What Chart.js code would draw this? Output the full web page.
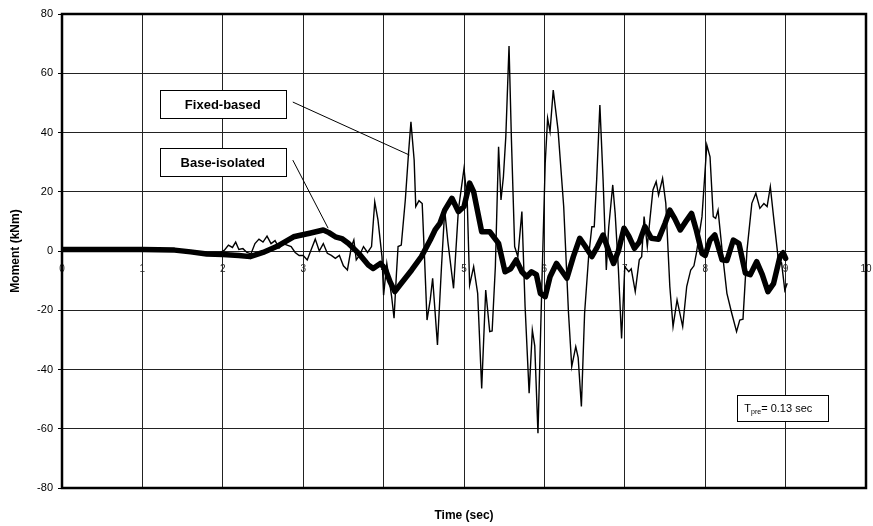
<!DOCTYPE html>
<html>
<head>
<meta charset="utf-8">
<script src="https://cdn.jsdelivr.net/npm/chart.js@4/dist/chart.umd.min.js"></script>
<style>
  html, body { margin: 0; padding: 0; background: #fff; }
  #chart { display: block; }
</style>
</head>
<body>
<canvas id="chart" width="873" height="526"></canvas>
<script>
// x ticks 0..10 (sec), y ticks -80..80 (kNm)
const xTicks = [0, 1, 2, 3, 4, 5, 6, 7, 8, 9, 10];
const yTicks = [-80, -60, -40, -20, 0, 20, 40, 60, 80];

// Fixed-based response (thin line)
const fixedTime = [
  0, 0.5, 1.0, 1.5, 1.65, 1.75, 1.85, 1.95, 2.02, 2.07, 2.12, 2.16, 2.2, 2.25, 2.3, 2.35,
  2.4, 2.45, 2.5, 2.55, 2.6, 2.65, 2.7, 2.75, 2.8, 2.85, 2.9, 2.95, 3.0, 3.05, 3.1, 3.15,
  3.2, 3.25, 3.3, 3.35, 3.4, 3.45, 3.5, 3.55, 3.6, 3.63, 3.66, 3.7, 3.75, 3.8, 3.85, 3.89,
  3.93, 3.98, 4.0, 4.04, 4.1, 4.13, 4.16, 4.18, 4.22, 4.27, 4.31, 4.34, 4.38, 4.4, 4.44, 4.48,
  4.51, 4.54, 4.58, 4.61, 4.67, 4.72, 4.76, 4.8, 4.87, 4.93, 5.0, 5.04, 5.07, 5.12, 5.17, 5.22,
  5.27, 5.32, 5.35, 5.39, 5.43, 5.46, 5.49, 5.52, 5.56, 5.59, 5.63, 5.67, 5.72, 5.76, 5.81, 5.85,
  5.88, 5.92, 5.97, 6.01, 6.04, 6.07, 6.11, 6.17, 6.24, 6.3, 6.34, 6.39, 6.42, 6.46, 6.5, 6.55,
  6.59, 6.62, 6.65, 6.69, 6.73, 6.77, 6.8, 6.85, 6.88, 6.92, 6.96, 7.0, 7.05, 7.08, 7.13, 7.18,
  7.21, 7.24, 7.28, 7.31, 7.35, 7.39, 7.42, 7.47, 7.51, 7.56, 7.6, 7.65, 7.72, 7.77, 7.82, 7.86,
  7.89, 7.96, 8.02, 8.06, 8.1, 8.13, 8.16, 8.21, 8.27, 8.33, 8.39, 8.43, 8.47, 8.52, 8.58, 8.63,
  8.68, 8.73, 8.77, 8.81, 8.85, 8.91, 8.95, 8.99, 9.02
];
const fixedMoment = [
  0.5, 0.5, 0.5, 0.3, -0.5, -1.2, -0.6, -0.8, 0.3, 2, 1.2, 3, 0.5, 0.8, -0.5, -1,
  2.5, 4, 3, 5, 2.5, 3.5, 1, 2.5, 2, 1.5, -0.5, -1.5, -1.5, -3, 0.5, 4,
  0, 2.5, -0.8, -1.5, -2.5, -1.5, -5, -6.4, 1.5, 3.7, -3, -1.5, 1.5, -0.5, 1.5, 16.6,
  10.5, -2, -14.9, -4.2, -15.4, -22.7, -7.5, 1.5, 2, 17.2, 33, 43.6, 30.7, 15, 17, 16,
  -3, -23.3, -16.5, -9.2, -31.7, -5.3, 13.8, 3, -12.6, 13.8, 27.9, 17.2, -11.5, -5.3, -14.3, -46.4,
  -13.2, -27.2, -27, -5.3, 35.2, 17.2, 25, 38.6, 69.2, 37.5, 1.5, -2, 13.3, -18.8, -48, -26.7,
  -32, -61.5, -9.8, 29.6, 44.8, 40.3, 54.3, 40.8, 15, -21, -39, -32.3, -36, -52.5, -21, -1.9,
  8.2, 8.2, 24, 49.3, 24, -6.4, 8, 22.3, 12.7, -6, -29.5, -5.3, -7, -6, -13.7, -3,
  -1.9, 11.6, 1.5, 10, 20.6, 23.4, 18.9, 24.5, 16.1, -12, -25.5, -16.5, -25.5, -12, -6.4, -5,
  -0.8, 11.6, 35.8, 31.8, 11.6, 11, 13.8, 0.3, -14.3, -21, -27.2, -23.3, -23, 0.3, 16.1, 19.5,
  14.4, 16, 15, 21.7, 11.6, -3, -4, -13.2, -10.9
];

// Base-isolated response (thick line)
const isoTime = [
  0, 1.0, 1.4, 1.6, 1.8, 2.0, 2.2, 2.34, 2.5, 2.67, 2.88, 3.08, 3.25, 3.32, 3.4, 3.48,
  3.56, 3.69, 3.81, 3.87, 3.96, 4.02, 4.08, 4.14, 4.22, 4.35, 4.47, 4.58, 4.64, 4.7, 4.76, 4.85,
  4.93, 5.0, 5.07, 5.12, 5.22, 5.32, 5.43, 5.51, 5.58, 5.65, 5.72, 5.78, 5.84, 5.9, 5.95, 6.01,
  6.07, 6.15, 6.21, 6.28, 6.36, 6.44, 6.51, 6.59, 6.66, 6.73, 6.8, 6.86, 6.92, 6.99, 7.05, 7.12,
  7.18, 7.25, 7.33, 7.42, 7.5, 7.56, 7.62, 7.69, 7.76, 7.83, 7.89, 7.96, 8.0, 8.06, 8.12, 8.21,
  8.27, 8.35, 8.42, 8.5, 8.56, 8.64, 8.71, 8.78, 8.85, 8.93, 8.97, 9.0
];
const isoMoment = [
  0.5, 0.5, 0.3, -0.3, -1, -1.2, -1.5, -1.9, -0.5, 1.5, 4.8, 6, 7.1, 6.2, 4.8, 4.2,
  2.6, -0.8, -4.7, -5.9, -4.2, -6, -10.4, -13.7, -10.9, -6.4, -1.9, 3.7, 7.1, 9.3, 13.8, 17.8,
  13.3, 15, 22.9, 20, 6.5, 6.5, 2.6, -7, -6, -3, -7, -8.7, -7, -8, -14.3, -15.4,
  -8.7, -4.2, -6.5, -9.2, -1.9, 4.3, 1.5, -1.9, 1.5, 5.4, 0, -4.2, 0, 7.7, 5, 0.9,
  3, 8.2, 4.3, 4, 9.3, 13.8, 11, 7.1, 10, 12.7, 7, -0.8, -1.5, 3.7, 5.4, -3,
  -3.2, 3.7, 2.5, -7.5, -8, -3.6, -8, -13.7, -11, -1.9, -0.6, -2.5
];

// callouts: label, box centre and arrow tip in data units
const callouts = [
  { text: 'Fixed-based', box: [2.0, 49.6], tip: [4.32, 32.4] },
  { text: 'Base-isolated', box: [2.0, 30.0], tip: [3.31, 7.7] },
];

const FONT = "Arial, 'Liberation Sans', sans-serif";

const toPoints = (xs, ys) => xs.map((x, i) => ({ x: x, y: ys[i] }));

const overlay = {
  id: 'overlay',
  afterDraw(chart) {
    const { ctx, chartArea: a, scales } = chart;
    const sx = scales.x, sy = scales.y;
    ctx.save();

    // plot frame
    ctx.strokeStyle = '#000';
    ctx.lineWidth = 2.5;
    ctx.strokeRect(a.left, a.top, a.right - a.left, a.bottom - a.top);

    // callout boxes + leader lines
    ctx.font = 'bold 13px ' + FONT;
    ctx.textAlign = 'center';
    ctx.textBaseline = 'middle';
    callouts.forEach((c) => {
      const cx = sx.getPixelForValue(c.box[0]);
      const cy = sy.getPixelForValue(c.box[1]);
      const w = 126, h = 28;
      ctx.lineWidth = 1;
      ctx.strokeStyle = '#000';
      ctx.beginPath();
      ctx.moveTo(cx + w / 2 + 7, cy - 2);
      ctx.lineTo(sx.getPixelForValue(c.tip[0]), sy.getPixelForValue(c.tip[1]));
      ctx.stroke();
      ctx.fillStyle = '#fff';
      ctx.fillRect(cx - w / 2, cy - h / 2, w, h);
      ctx.strokeRect(Math.round(cx - w / 2) + 0.5, Math.round(cy - h / 2) + 0.5, w, h);
      ctx.fillStyle = '#000';
      ctx.fillText(c.text, cx, cy + 1);
    });

    // period note
    const bx = sx.getPixelForValue(8.4), by = sy.getPixelForValue(-48.6);
    ctx.fillStyle = '#fff';
    ctx.fillRect(bx, by, 91, 26);
    ctx.lineWidth = 1;
    ctx.strokeRect(Math.round(bx) + 0.5, Math.round(by) + 0.5, 91, 26);
    ctx.fillStyle = '#000';
    ctx.textAlign = 'left';
    ctx.textBaseline = 'alphabetic';
    let tx = bx + 7;
    const base = by + 17;
    ctx.font = '11px ' + FONT;
    ctx.fillText('T', tx, base);
    tx += ctx.measureText('T').width;
    ctx.font = '7px ' + FONT;
    ctx.fillText('pre', tx, base + 2);
    tx += ctx.measureText('pre').width;
    ctx.font = '11px ' + FONT;
    ctx.fillText('= 0.13 sec', tx, base);

    ctx.restore();
  },
};

new Chart(document.getElementById('chart'), {
  type: 'line',
  data: {
    datasets: [
      {
        label: 'Base-isolated',
        data: toPoints(isoTime, isoMoment),
        borderColor: '#000',
        borderWidth: 5.5,
        borderJoinStyle: 'round',
        borderCapStyle: 'round',
        pointRadius: 0,
        tension: 0,
      },
      {
        label: 'Fixed-based',
        data: toPoints(fixedTime, fixedMoment),
        borderColor: '#000',
        borderWidth: 1.4,
        pointRadius: 0,
        tension: 0,
      },
    ],
  },
  options: {
    responsive: false,
    animation: false,
    events: [],
    layout: { autoPadding: false, padding: { top: 14, right: 7, left: 0, bottom: 0 } },
    plugins: { legend: { display: false }, tooltip: { enabled: false } },
    scales: {
      x: {
        type: 'linear',
        position: { y: 0 },
        min: 0,
        max: 10,
        afterBuildTicks: (scale) => { scale.ticks = xTicks.map((v) => ({ value: v })); },
        ticks: { padding: 12, color: '#222', font: { family: FONT, size: 10 }, maxRotation: 0 },
        grid: { color: '#222', lineWidth: 1, drawTicks: false },
        border: { display: false },
        afterFit: (scale) => { scale.paddingLeft = 0; scale.paddingRight = 0; },
      },
      xTitle: {
        type: 'linear',
        position: 'bottom',
        min: 0,
        max: 10,
        ticks: { display: false },
        grid: { display: false },
        border: { display: false },
        title: {
          display: true,
          text: 'Time (sec)',
          color: '#000',
          font: { family: FONT, size: 12, weight: 'bold' },
          padding: { top: 0, bottom: 3 },
        },
        afterFit: (scale) => { scale.height = 38; scale.paddingLeft = 0; scale.paddingRight = 0; },
      },
      y: {
        type: 'linear',
        min: -80,
        max: 80,
        afterBuildTicks: (scale) => { scale.ticks = yTicks.map((v) => ({ value: v })); },
        ticks: { padding: 5, color: '#000', font: { family: FONT, size: 11 } },
        grid: { color: '#222', lineWidth: 1, tickLength: 4, tickColor: '#000' },
        border: { display: false },
        title: {
          display: true,
          text: 'Moment (kNm)',
          color: '#000',
          font: { family: FONT, size: 12, weight: 'bold' },
          padding: { top: 8, bottom: 0 },
        },
        afterFit: (scale) => { scale.width = 62; },
      },
    },
  },
  plugins: [overlay],
});
</script>
</body>
</html>
